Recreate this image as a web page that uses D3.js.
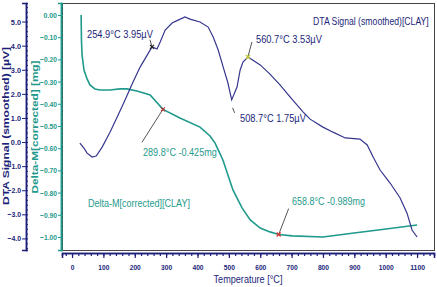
<!DOCTYPE html>
<html lang="en">
<head>
<meta charset="UTF-8">
<title>DTA / Delta-M</title>
<style>
  body { margin: 0; background: #fff; }
  svg { display: block; }
  .narrow { font-family: "Liberation Sans Narrow", "Liberation Sans", Arial, sans-serif; }
</style>
</head>
<body>
<div id="chart"></div>
<script src="https://d3js.org/d3.v7.min.js"></script>
<script>
// temperature [°C] and DTA signal [µV]
var dtaTemp = [25, 38, 48, 64, 77, 96, 121, 147, 169, 193, 217, 255, 271, 281, 297, 319, 338, 360, 376, 408, 434, 450, 466, 482, 497, 509, 526, 536, 545, 561, 600, 631, 663, 695, 737, 759, 800, 832, 871, 918, 941, 960, 982, 1014, 1046, 1068, 1084, 1100];
var dtaVal  = [-0.04, -0.25, -0.46, -0.62, -0.58, -0.21, 0.41, 1.12, 1.74, 2.45, 3.11, 3.95, 3.86, 4.15, 4.65, 4.94, 5.06, 5.19, 5.10, 4.98, 4.77, 4.36, 3.82, 3.11, 2.45, 1.75, 2.28, 2.99, 3.32, 3.53, 3.20, 2.82, 2.37, 1.87, 1.24, 0.95, 0.62, 0.41, 0.17, 0.12, -0.12, -0.62, -1.16, -1.70, -2.32, -2.95, -3.65, -3.94];

// temperature [°C] and mass change [mg]
var massTemp = [29, 30, 32, 38, 48, 57, 73, 89, 121, 153, 175, 207, 249, 290, 344, 408, 440, 456, 481, 513, 542, 568, 600, 631, 659, 702, 800, 899, 1001, 1100];
var massVal  = [0.0, -0.113, -0.18, -0.248, -0.288, -0.315, -0.333, -0.338, -0.338, -0.333, -0.333, -0.342, -0.36, -0.425, -0.464, -0.505, -0.545, -0.577, -0.653, -0.788, -0.869, -0.923, -0.96, -0.977, -0.989, -0.995, -1.0, -0.982, -0.964, -0.946];

// marked peaks
var dtaMarks  = [{t: 254.9, v: 3.95, label: "254.9°C   3.95µV"}, {t: 560.7, v: 3.53, label: "560.7°C   3.53µV"}, {t: 508.7, v: 1.75, label: "508.7°C   1.75µV"}];
var massMarks = [{t: 289.8, v: -0.425, label: "289.8°C   -0.425mg"}, {t: 658.8, v: -0.989, label: "658.8°C   -0.989mg"}];

var xTicks = [0, 100, 200, 300, 400, 500, 600, 700, 800, 900, 1000, 1100];
var dtaTicks = [5, 4, 3, 2, 1, 0, -1, -2, -3, -4];
var massTicks = [0, -0.1, -0.2, -0.3, -0.4, -0.5, -0.6, -0.7, -0.8, -0.9, -1.0];

var width = 437, height = 287;
var blue = "#36368f", navy = "#1c1f7a", teal = "#1f9a8c";
var tickFont = "Liberation Sans Narrow, Liberation Sans, Arial, sans-serif";

var svg = d3.select("#chart").append("svg")
    .attr("width", width)
    .attr("height", height);

var x = d3.scaleLinear().domain([-32, 1154]).range([62, 434]);
var yD = d3.scaleLinear().domain([-4.48, 5.77]).range([250, 3]);
var yM = d3.scaleLinear().domain([-1.0586, 0.054]).range([250, 3]);

// squeeze tick labels the way the narrow original font looks
function squeeze(sel, col, perChar) {
  sel.selectAll("text")
    .attr("fill", col).attr("font-size", 8).attr("font-weight", "bold")
    .attr("font-family", tickFont)
    .attr("lengthAdjust", "spacingAndGlyphs")
    .attr("textLength", function() { return this.textContent.length * perChar; });
}

// frame
svg.append("rect")
    .attr("x", 62.5).attr("y", 3.5)
    .attr("width", 372).attr("height", 247)
    .attr("fill", "#fff").attr("stroke", "#444").attr("stroke-width", 1);

// bottom axis
var xAxis = svg.append("g").attr("transform", "translate(0,253)");
xAxis.call(d3.axisBottom(x).tickValues(d3.range(-20, 1141, 20)).tickSize(3).tickFormat(""));
xAxis.append("g").call(d3.axisBottom(x).tickValues(xTicks).tickSize(5).tickPadding(6).tickFormat(d3.format("d")));
xAxis.selectAll("path.domain").attr("stroke", navy).attr("stroke-width", 1.5);
xAxis.selectAll("line").attr("stroke", navy).attr("stroke-width", 1.2);
squeeze(xAxis, navy, 3.7);

// narrow text: scale horizontally so the box matches the wanted width
function label(txt, lx, ly, col, len, anchor) {
  var t = svg.append("text").attr("class", "narrow")
    .attr("font-size", 11).attr("fill", col)
    .attr("text-anchor", anchor || "start")
    .text(txt);
  var w = t.node().getComputedTextLength();
  t.attr("transform", "translate(" + lx + "," + ly + ") scale(" + (len / w) + ",1)");
  return t;
}

label("Temperature  [°C]", 248, 283, navy, 69, "middle");

// DTA axis
var dAxis = svg.append("g").attr("transform", "translate(26,0)");
dAxis.call(d3.axisRight(yD).tickValues(d3.range(-4.4, 5.61, 0.2)).tickSize(2).tickFormat(""));
dAxis.append("g").call(d3.axisLeft(yD).tickValues(dtaTicks).tickSize(4).tickPadding(1).tickFormat(d3.format(".1f")));
dAxis.selectAll("path.domain").attr("stroke", navy).attr("stroke-width", 1.5);
dAxis.selectAll("line").attr("stroke", navy).attr("stroke-width", 1);
squeeze(dAxis, navy, 3.4);

svg.append("text")
    .attr("transform", "translate(9,126) rotate(-90)")
    .attr("text-anchor", "middle")
    .attr("font-family", "Liberation Sans, Arial, sans-serif")
    .attr("font-size", 9.5).attr("font-weight", "bold").attr("fill", navy)
    .attr("textLength", 158).attr("lengthAdjust", "spacingAndGlyphs")
    .text("DTA Signal (smoothed)  [µV]");

// Delta-M axis
var mAxis = svg.append("g").attr("transform", "translate(61,0)");
mAxis.call(d3.axisRight(yM).tickValues(d3.range(-1.04, 0.041, 0.02)).tickSize(2).tickFormat(""));
mAxis.append("g").call(d3.axisLeft(yM).tickValues(massTicks).tickSize(3).tickPadding(1).tickFormat(d3.format(".2f")));
mAxis.selectAll("path.domain").attr("stroke", teal).attr("stroke-width", 1.5);
mAxis.selectAll("line").attr("stroke", teal).attr("stroke-width", 1);
squeeze(mAxis, teal, 3.4);

svg.append("text")
    .attr("transform", "translate(38,127) rotate(-90)")
    .attr("text-anchor", "middle")
    .attr("font-family", "Liberation Sans, Arial, sans-serif")
    .attr("font-size", 9.5).attr("font-weight", "bold").attr("fill", teal)
    .attr("textLength", 133).attr("lengthAdjust", "spacingAndGlyphs")
    .text("Delta-M[corrected]  [mg]");

// curves
var massLine = d3.line().x(function(d, i) { return x(massTemp[i]); }).y(function(d) { return yM(d); });
var dtaLine = d3.line().x(function(d, i) { return x(dtaTemp[i]); }).y(function(d) { return yD(d); });

svg.append("path").attr("d", massLine(massVal))
    .attr("fill", "none").attr("stroke", teal).attr("stroke-width", 1.6);
svg.append("path").attr("d", dtaLine(dtaVal))
    .attr("fill", "none").attr("stroke", blue).attr("stroke-width", 1.2);

// leader lines + markers
function cross(g, cx, cy, col) {
  g.append("path")
    .attr("d", "M" + (cx - 2) + "," + (cy - 2) + "L" + (cx + 2) + "," + (cy + 2) + "M" + (cx - 2) + "," + (cy + 2) + "L" + (cx + 2) + "," + (cy - 2))
    .attr("stroke", col).attr("stroke-width", 1.2);
}
var lead = svg.append("g").attr("stroke", "#555").attr("stroke-width", 1);
function leader(px, py, dx, dy) {
  lead.append("line").attr("x1", px).attr("y1", py).attr("x2", px + dx).attr("y2", py + dy);
}

var m0 = dtaMarks[0], m1 = dtaMarks[1], m2 = dtaMarks[2];
leader(x(m0.t), yD(m0.v), -2, -7);
leader(x(m1.t), yD(m1.v), 4, -15);
leader(x(m2.t) + 1, yD(m2.v) + 8, 2, 5);
cross(svg, x(m0.t), yD(m0.v), "#222");
cross(svg, x(m1.t), yD(m1.v), "#c8c830");

var k0 = massMarks[0], k1 = massMarks[1];
leader(x(k0.t), yM(k0.v), -21, 33);
leader(x(k1.t), yM(k1.v), 10, -26);
cross(svg, x(k0.t), yM(k0.v), "#a33");
cross(svg, x(k1.t), yM(k1.v), "#d33");

// annotations
label(m0.label, 87, 38, navy, 66);
label(m1.label, 256, 43, navy, 66);
label(m2.label, 240, 122, navy, 66);
label("DTA Signal (smoothed)[CLAY]", 313, 25, navy, 116);
label(k0.label, 143, 156, teal, 74);
label(k1.label, 292, 205, teal, 73);
label("Delta-M[corrected][CLAY]", 88, 207, teal, 102);
</script>
</body>
</html>
